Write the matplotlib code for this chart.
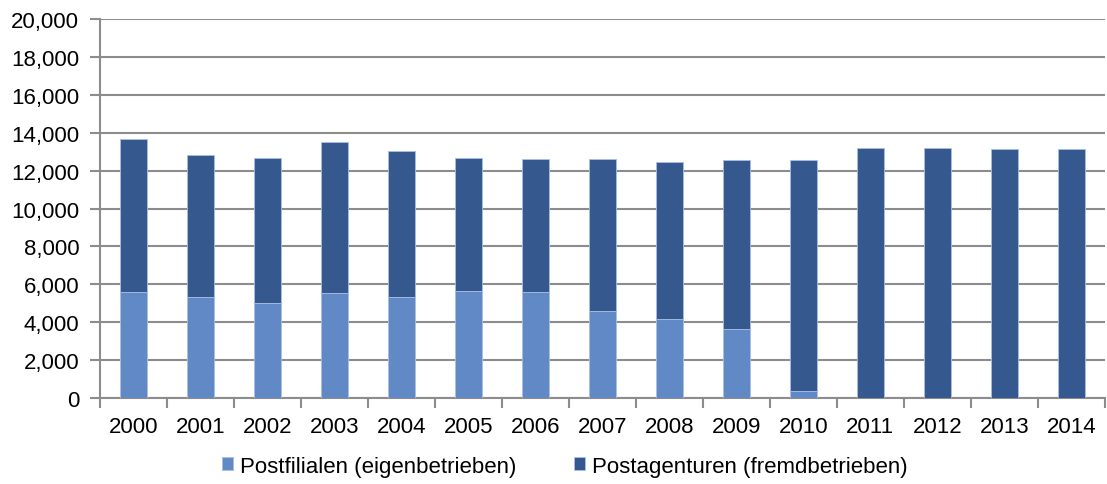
import numpy as np
import matplotlib
matplotlib.use("Agg")
import matplotlib.pyplot as plt
from matplotlib.ticker import FuncFormatter, FixedLocator

plt.rcParams['font.family'] = ['Liberation Sans', 'DejaVu Sans']

years = ["2000", "2001", "2002", "2003", "2004", "2005", "2006", "2007",
         "2008", "2009", "2010", "2011", "2012", "2013", "2014"]
filialen = [5590, 5330, 5040, 5520, 5360, 5630, 5590, 4570,
            4150, 3670, 360, 0, 0, 0, 0]
totals = [13650, 12820, 12680, 13500, 13010, 12680, 12630, 12590,
          12470, 12540, 12570, 13190, 13210, 13120, 13160]
agenturen = [t - f for t, f in zip(totals, filialen)]

light = "#6189C6"
dark = "#35598F"
grid_col = "#8C8C8C"
fs = 16

fig = plt.figure(figsize=(11.07, 4.85), dpi=100)
ax = fig.add_axes([0.0903, 0.177, 0.9077, 0.782])

x = np.arange(len(years))
ax.bar(x, filialen, width=0.4, color=light, edgecolor="#A9C0E3", linewidth=0.6,
       label="Postfilialen (eigenbetrieben)", zorder=3)
ax.bar(x, agenturen, width=0.4, bottom=filialen, color=dark, edgecolor="#A9C0E3",
       linewidth=0.6, label="Postagenturen (fremdbetrieben)", zorder=3)

ax.set_xlim(-0.5, len(years) - 0.5)
ax.set_ylim(0, 20000)
ax.set_yticks(np.arange(0, 20001, 2000))
ax.yaxis.set_major_formatter(FuncFormatter(lambda v, p: f"{int(v):,}"))
ax.grid(axis="y", color=grid_col, linewidth=1.5, zorder=0)

ax.set_xticks(x)
ax.set_xticklabels(years)
ax.xaxis.set_minor_locator(FixedLocator(np.arange(-0.5, len(years), 1)))
ax.tick_params(axis="x", which="major", length=0, pad=13, labelsize=fs, colors="black")
ax.tick_params(axis="x", which="minor", length=7, width=1.5, color=grid_col)
ax.tick_params(axis="y", length=7, width=1.5, color=grid_col, pad=8, labelsize=fs)

for s in ["top", "right"]:
    ax.spines[s].set_visible(False)
for s in ["left", "bottom"]:
    ax.spines[s].set_color(grid_col)
    ax.spines[s].set_linewidth(1.5)

fig.legend(loc="center", bbox_to_anchor=(0.51, 0.037), ncol=2, frameon=False,
           fontsize=fs, handlelength=0.5, handleheight=0.5, handletextpad=0.3,
           columnspacing=2.6)

fig.savefig("out.png", dpi=100)
